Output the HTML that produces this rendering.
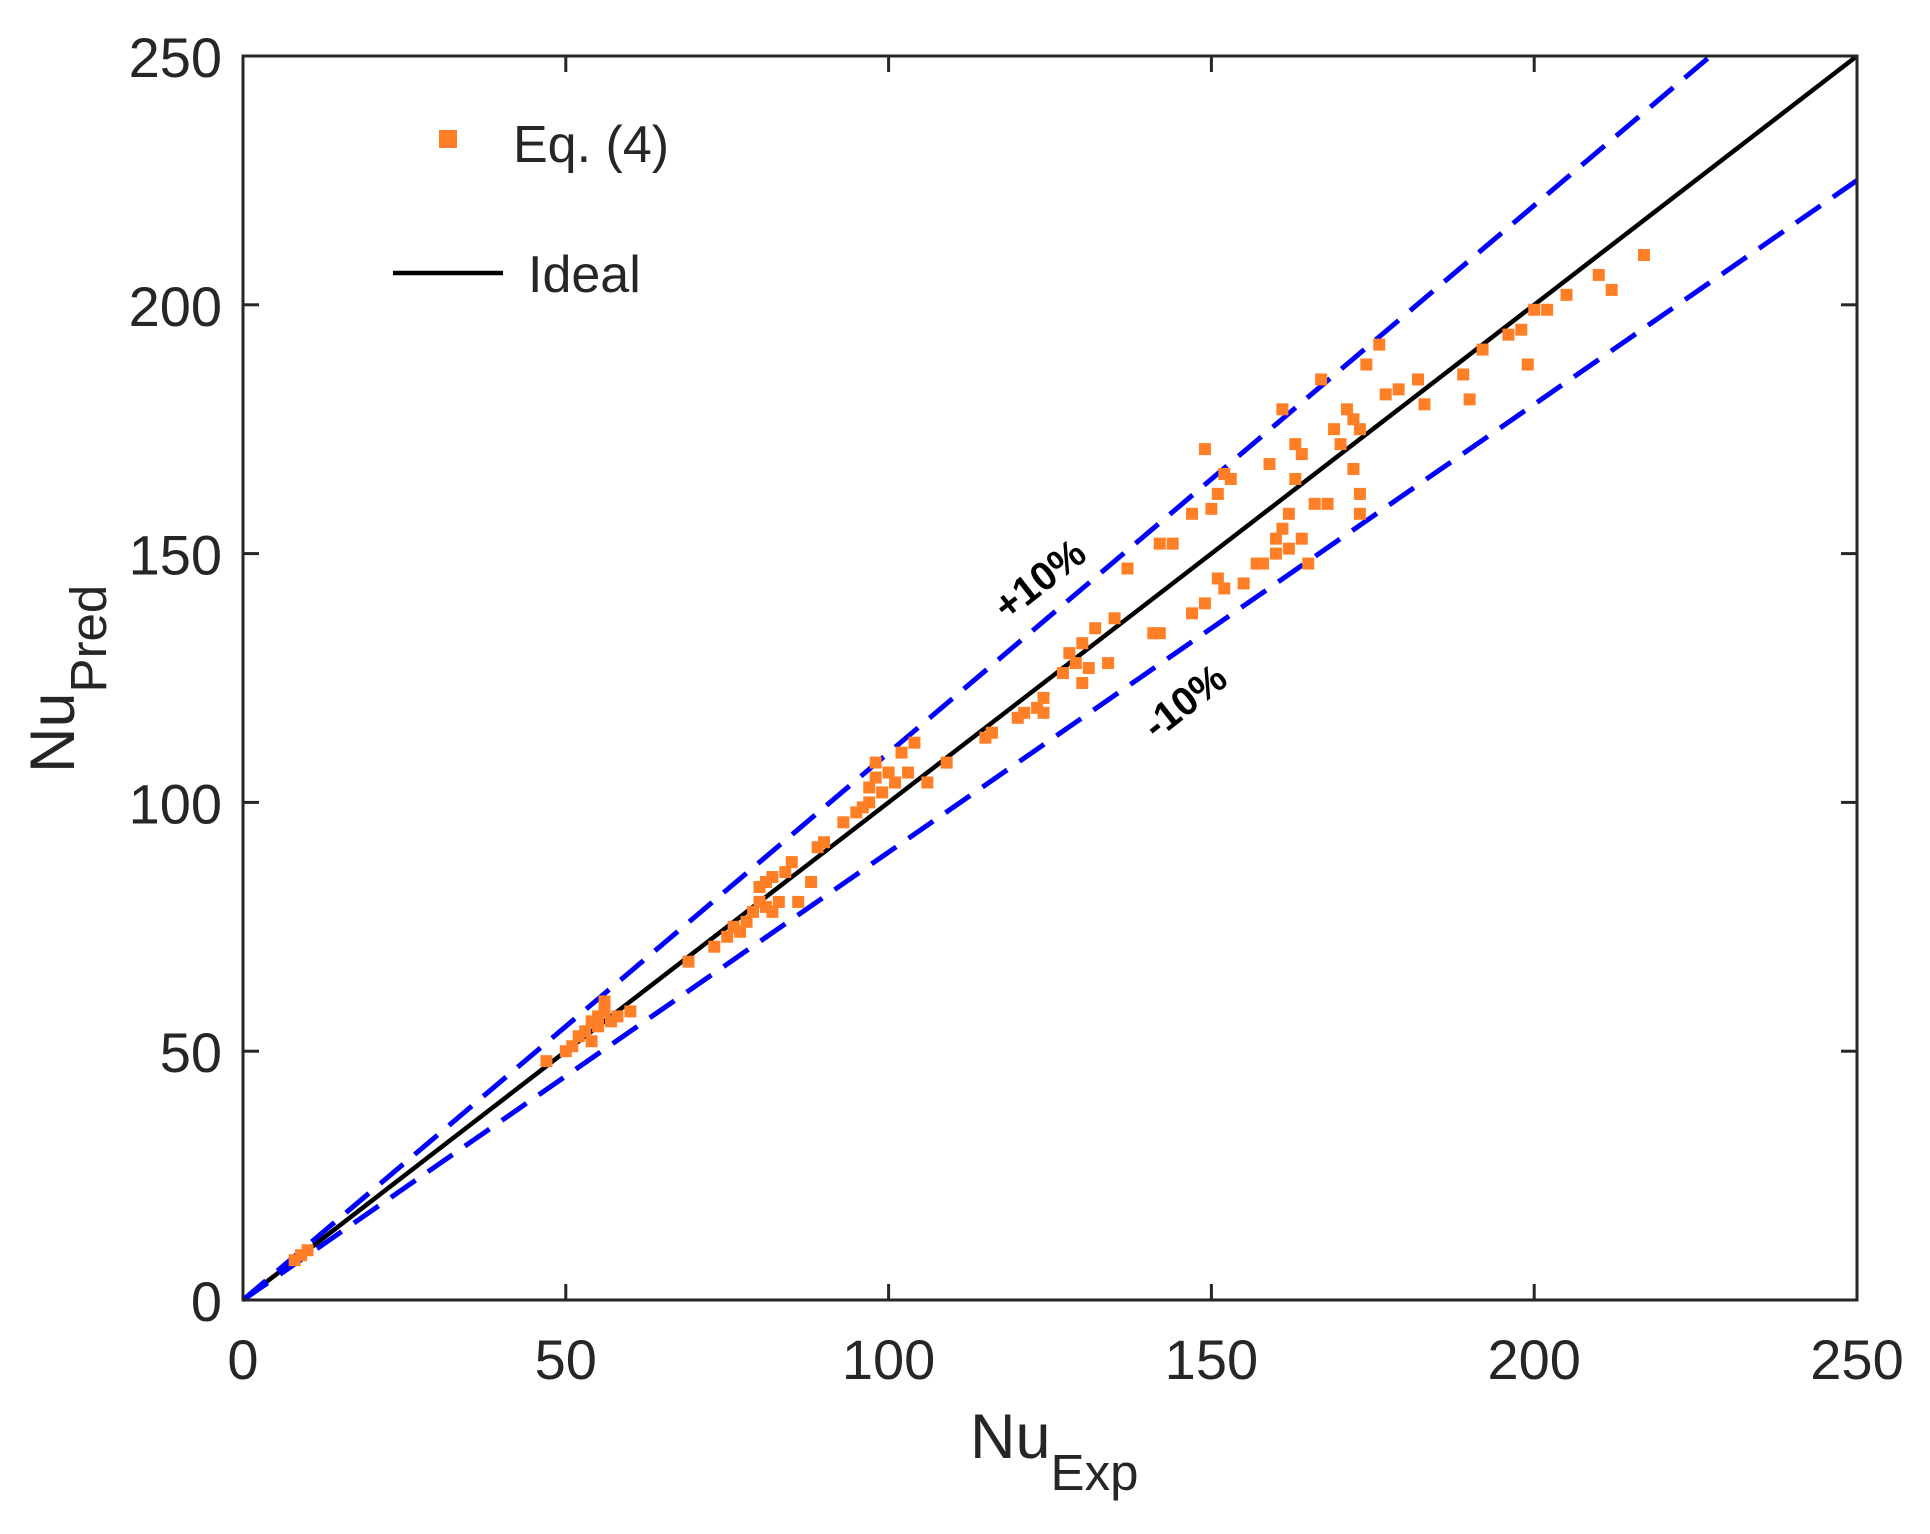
<!DOCTYPE html>
<html><head><meta charset="utf-8"><style>
html,body{margin:0;padding:0;background:#fff;}
svg{display:block;}
text{font-family:"Liberation Sans",Arial,sans-serif;fill:#262626;}
</style></head><body>
<svg id="s" width="1930" height="1534" viewBox="0 0 1930 1534" xmlns="http://www.w3.org/2000/svg">
<g id="ticks"></g>
<line x1="243" y1="1300" x2="1857" y2="56" stroke="#000" stroke-width="4.5"/>
<line x1="243" y1="1300" x2="1710.5" y2="56" stroke="#0000ff" stroke-width="5" stroke-dasharray="30,15"/>
<line x1="243" y1="1300" x2="1857" y2="180.4" stroke="#0000ff" stroke-width="5" stroke-dasharray="30,15"/>
<g id="pts" fill="#ff7f27"></g>
<rect x="243" y="56" width="1614" height="1244" fill="none" stroke="#262626" stroke-width="3"/>
<rect x="439" y="130" width="18" height="18" fill="#ff7f27"/>
<text x="513" y="162" font-size="52">Eq. (4)</text>
<line x1="393" y1="273" x2="503" y2="273" stroke="#000" stroke-width="4.5"/>
<text x="528" y="292" font-size="52">Ideal</text>
<text x="1048" y="590" font-size="40" font-weight="bold" style="fill:#000" transform="rotate(-38 1048 590)" text-anchor="middle">+10%</text>
<text x="1193" y="712" font-size="40" font-weight="bold" style="fill:#000" transform="rotate(-38 1193 712)" text-anchor="middle">-10%</text>
<text x="970" y="1458" font-size="63">Nu<tspan font-size="51" dy="32">Exp</tspan></text>
<text transform="translate(74 773) rotate(-90)" font-size="63">Nu<tspan font-size="51" dy="32">Pred</tspan></text>
<g id="labels"></g>
</svg>
<script>
var X=function(v){return 243+v*6.456},Y=function(v){return 1300-v*4.976};
var t=document.getElementById('ticks'),L=document.getElementById('labels');
for(var v=0;v<=250;v+=50){
 var x=X(v),y=Y(v);
 t.innerHTML+='<line x1="'+x+'" y1="1300" x2="'+x+'" y2="1284" stroke="#262626" stroke-width="3"/><line x1="'+x+'" y1="56" x2="'+x+'" y2="72" stroke="#262626" stroke-width="3"/><line x1="243" y1="'+y+'" x2="259" y2="'+y+'" stroke="#262626" stroke-width="3"/><line x1="1857" y1="'+y+'" x2="1841" y2="'+y+'" stroke="#262626" stroke-width="3"/>';
 L.innerHTML+='<text x="'+x+'" y="1379" font-size="56" text-anchor="middle" style="font-family:Liberation Sans,sans-serif;fill:#262626">'+v+'</text><text x="222" y="'+(y+21)+'" font-size="56" text-anchor="end" style="font-family:Liberation Sans,sans-serif;fill:#262626">'+v+'</text>';
}
var d=[[8,8],[9,9],[10,10],[47,48],[50,50],[51,51],[52,53],[53,54],[54,56],[54,52],[55,57],[55,55],[56,58],[56,60],[57,56],[58,57],[60,58],[69,68],[73,71],[75,73],[76,75],[77,74],[78,76],[79,78],[80,80],[80,83],[81,79],[81,84],[82,78],[82,85],[83,80],[84,86],[85,88],[86,80],[88,84],[89,91],[90,92],[93,96],[95,98],[96,99],[97,100],[97,103],[98,105],[98,108],[99,102],[100,106],[101,104],[102,110],[103,106],[104,112],[106,104],[109,108],[115,113],[116,114],[120,117],[121,118],[123,119],[124,121],[124,118],[127,126],[128,130],[129,128],[130,124],[130,132],[131,127],[132,135],[134,128],[135,137],[137,147],[141,134],[142,134],[142,152],[144,152],[147,158],[147,138],[149,140],[149,171],[150,159],[151,162],[151,145],[152,166],[152,143],[153,165],[155,144],[157,148],[158,148],[159,168],[160,150],[160,153],[161,155],[161,179],[162,151],[162,158],[163,172],[163,165],[164,170],[164,153],[165,148],[166,160],[167,185],[168,160],[169,175],[170,172],[171,179],[172,167],[172,177],[173,162],[173,175],[173,158],[174,188],[176,192],[177,182],[179,183],[182,185],[183,180],[189,186],[190,181],[192,191],[196,194],[198,195],[199,188],[200,199],[202,199],[205,202],[210,206],[212,203],[217,210]];
var h='';d.forEach(function(p){h+='<rect x="'+(X(p[0])-6)+'" y="'+(Y(p[1])-6)+'" width="12" height="12"/>';});
document.getElementById('pts').innerHTML=h;
</script>
</body></html>
